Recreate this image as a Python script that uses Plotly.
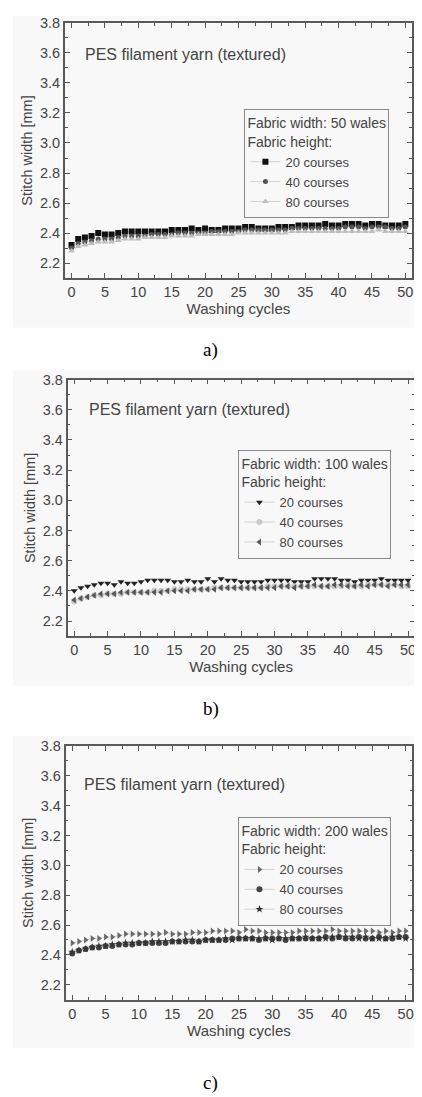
import plotly.graph_objects as go

# ---------------- data ----------------
cycles = list(range(0, 51))
x_ticks = [0, 5, 10, 15, 20, 25, 30, 35, 40, 45, 50]
y_ticks = [2.2, 2.4, 2.6, 2.8, 3.0, 3.2, 3.4, 3.6, 3.8]

# a) Fabric width 50 wales
a_20 = [2.32, 2.36, 2.37, 2.38, 2.40, 2.39, 2.39, 2.40, 2.41, 2.41,
        2.41, 2.41, 2.41, 2.41, 2.41, 2.42, 2.42, 2.42, 2.43, 2.42,
        2.43, 2.42, 2.42, 2.43, 2.43, 2.43, 2.44, 2.44, 2.43, 2.43,
        2.43, 2.44, 2.44, 2.44, 2.45, 2.45, 2.45, 2.45, 2.46, 2.45,
        2.45, 2.46, 2.46, 2.46, 2.45, 2.46, 2.46, 2.45, 2.45, 2.45,
        2.46]
a_40 = [2.30, 2.33, 2.34, 2.35, 2.36, 2.36, 2.36, 2.37, 2.38, 2.38,
        2.38, 2.38, 2.39, 2.39, 2.39, 2.39, 2.40, 2.40, 2.40, 2.40,
        2.40, 2.41, 2.41, 2.41, 2.41, 2.41, 2.42, 2.42, 2.42, 2.42,
        2.42, 2.42, 2.42, 2.43, 2.43, 2.43, 2.43, 2.43, 2.43, 2.43,
        2.43, 2.44, 2.44, 2.44, 2.43, 2.44, 2.44, 2.44, 2.43, 2.43,
        2.44]
a_80 = [2.28, 2.31, 2.32, 2.33, 2.34, 2.34, 2.34, 2.35, 2.36, 2.36,
        2.36, 2.37, 2.37, 2.37, 2.37, 2.38, 2.38, 2.38, 2.38, 2.39,
        2.39, 2.39, 2.39, 2.39, 2.39, 2.40, 2.40, 2.40, 2.40, 2.40,
        2.40, 2.40, 2.40, 2.41, 2.41, 2.41, 2.41, 2.41, 2.41, 2.41,
        2.41, 2.41, 2.41, 2.41, 2.41, 2.41, 2.42, 2.41, 2.41, 2.41,
        2.41]

# b) Fabric width 100 wales
b_20 = [2.40, 2.42, 2.43, 2.44, 2.45, 2.45, 2.44, 2.46, 2.45, 2.45,
        2.46, 2.47, 2.47, 2.47, 2.47, 2.46, 2.46, 2.47, 2.46, 2.46,
        2.48, 2.46, 2.48, 2.47, 2.47, 2.46, 2.46, 2.46, 2.46, 2.47,
        2.47, 2.47, 2.47, 2.46, 2.46, 2.46, 2.48, 2.48, 2.48, 2.48,
        2.47, 2.47, 2.46, 2.47, 2.47, 2.47, 2.48, 2.47, 2.47, 2.47,
        2.47]
b_40 = [2.33, 2.35, 2.36, 2.37, 2.37, 2.38, 2.38, 2.38, 2.39, 2.39,
        2.39, 2.39, 2.40, 2.40, 2.40, 2.41, 2.41, 2.41, 2.41, 2.41,
        2.41, 2.42, 2.42, 2.42, 2.42, 2.42, 2.42, 2.42, 2.42, 2.43,
        2.43, 2.43, 2.43, 2.43, 2.43, 2.43, 2.43, 2.43, 2.43, 2.43,
        2.43, 2.44, 2.43, 2.43, 2.44, 2.44, 2.44, 2.44, 2.44, 2.43,
        2.43]
b_80 = [2.34, 2.35, 2.36, 2.37, 2.38, 2.38, 2.38, 2.39, 2.39, 2.39,
        2.39, 2.39, 2.39, 2.39, 2.40, 2.40, 2.40, 2.40, 2.41, 2.41,
        2.41, 2.41, 2.42, 2.42, 2.42, 2.42, 2.42, 2.42, 2.42, 2.42,
        2.42, 2.43, 2.43, 2.42, 2.43, 2.43, 2.44, 2.43, 2.43, 2.44,
        2.44, 2.43, 2.43, 2.44, 2.43, 2.44, 2.44, 2.43, 2.44, 2.44,
        2.44]

# c) Fabric width 200 wales
c_20 = [2.48, 2.49, 2.50, 2.51, 2.51, 2.52, 2.52, 2.53, 2.54, 2.54,
        2.54, 2.54, 2.54, 2.54, 2.55, 2.54, 2.54, 2.54, 2.55, 2.55,
        2.55, 2.56, 2.56, 2.56, 2.56, 2.55, 2.57, 2.56, 2.56, 2.55,
        2.55, 2.55, 2.55, 2.55, 2.56, 2.56, 2.56, 2.56, 2.56, 2.57,
        2.56, 2.56, 2.56, 2.56, 2.56, 2.56, 2.55, 2.56, 2.55, 2.56,
        2.56]
c_40 = [2.41, 2.43, 2.44, 2.45, 2.45, 2.46, 2.46, 2.47, 2.47, 2.47,
        2.48, 2.48, 2.48, 2.48, 2.48, 2.49, 2.49, 2.49, 2.49, 2.49,
        2.50, 2.50, 2.50, 2.50, 2.51, 2.51, 2.51, 2.51, 2.50, 2.51,
        2.51, 2.51, 2.50, 2.51, 2.51, 2.51, 2.51, 2.51, 2.52, 2.51,
        2.52, 2.51, 2.51, 2.52, 2.51, 2.51, 2.52, 2.51, 2.51, 2.52,
        2.52]
c_80 = [2.42, 2.43, 2.44, 2.45, 2.46, 2.46, 2.47, 2.47, 2.48, 2.48,
        2.48, 2.48, 2.49, 2.49, 2.49, 2.49, 2.49, 2.50, 2.50, 2.49,
        2.50, 2.50, 2.50, 2.51, 2.50, 2.51, 2.51, 2.51, 2.51, 2.51,
        2.50, 2.51, 2.51, 2.51, 2.51, 2.52, 2.51, 2.51, 2.51, 2.52,
        2.52, 2.52, 2.52, 2.51, 2.52, 2.51, 2.51, 2.51, 2.52, 2.52,
        2.51]

series_names = ["20 courses", "40 courses", "80 courses"]
panel_titles = ["Fabric width: 50 wales", "Fabric width: 100 wales", "Fabric width: 200 wales"]
captions = ["a)", "b)", "c)"]
inner_label = "PES filament yarn (textured)"
x_title = "Washing cycles"
y_title = "Stitch width [mm]"

panel_data = [[a_20, a_40, a_80], [b_20, b_40, b_80], [c_20, c_40, c_80]]

# ---------------- styling / layout ----------------
PAGE_W, PAGE_H = 422, 1097
OFF = 8  # page body margin of the html page
W, H = PAGE_W - OFF, PAGE_H - OFF
SANS = "Liberation Sans, Arial, sans-serif"
SERIF = "Liberation Serif, Times New Roman, serif"

def fx(p):
    return (p - OFF) / W

def fy(p):
    return 1 - (p - OFF) / H

# frame pixel boxes in page pixels (left, top, right, bottom)
frames = [(65, 15, 413, 272), (67.7, 374.3, 415.7, 632.7), (65.7, 743.3, 413.3, 999)]
legend_pos = [(245, 102), (239, 445), (239, 815)]
label_pos = [(83, 47), (87, 404), (82, 782)]
caption_y = [344, 706, 1083]
bg_boxes = [(13, 8, 418, 322), (13, 365, 418, 683), (13, 733, 418, 1048)]

marker_styles = [
    [dict(symbol="square", color="#111111", size=6),
     dict(symbol="circle", color="#555555", size=5),
     dict(symbol="triangle-up", color="#bdbdbd", size=6)],
    [dict(symbol="triangle-down", color="#222222", size=6),
     dict(symbol="circle", color="#c8c8c8", size=6),
     dict(symbol="triangle-left", color="#555555", size=6)],
    [dict(symbol="triangle-right", color="#6a6a6a", size=6),
     dict(symbol="circle", color="#444444", size=6),
     dict(symbol="star", color="#333333", size=6)],
]

fig = go.Figure()
layout = dict(
    width=W, height=H,
    margin=dict(l=0, r=0, t=0, b=0),
    paper_bgcolor="white",
    plot_bgcolor="rgba(0,0,0,0)",
    showlegend=True,
    annotations=[],
    shapes=[],
)

for i in range(3):
    k = "" if i == 0 else str(i + 1)
    xa, ya = "x" + k, "y" + k
    leg = "legend" + k
    for j in range(3):
        ms = marker_styles[i][j]
        fig.add_trace(go.Scatter(
            x=cycles, y=panel_data[i][j], mode="lines+markers",
            name=series_names[j], xaxis=xa, yaxis=ya, legend=leg,
            line=dict(color="#b8b8b8", width=0.6),
            marker=dict(symbol=ms["symbol"], color=ms["color"], size=ms["size"],
                        line=dict(width=0)),
        ))
    l, t, r, b = frames[i]
    layout["xaxis" + k] = dict(
        domain=[fx(l), fx(r)], anchor=ya, range=[-1, 51],
        tickmode="array", tickvals=x_ticks,
        ticks="inside", ticklen=5, tickwidth=1, tickcolor="#555",
        showline=True, linecolor="#5a5a5a", linewidth=1.5, mirror="allticks",
        showgrid=False, zeroline=False,
        tickfont=dict(family=SANS, size=14.5, color="#444"),
        minor=dict(ticks="inside", ticklen=3, tickcolor="#555", dtick=2.5, tick0=0, showgrid=False),
        title=dict(text=x_title, font=dict(family=SANS, size=15, color="#444"), standoff=4),
    )
    layout["yaxis" + k] = dict(
        domain=[fy(b), fy(t)], anchor=xa, range=[2.1, 3.8],
        tickmode="array", tickvals=y_ticks, tickformat=".1f",
        ticks="inside", ticklen=5, tickwidth=1, tickcolor="#555",
        showline=True, linecolor="#5a5a5a", linewidth=1.5, mirror="allticks",
        showgrid=False, zeroline=False,
        tickfont=dict(family=SANS, size=14.5, color="#444"),
        minor=dict(ticks="inside", ticklen=3, tickcolor="#555", dtick=0.1, tick0=2.2, showgrid=False),
        title=dict(text=y_title, font=dict(family=SANS, size=14.5, color="#444"), standoff=4),
    )
    lx, ly = legend_pos[i]
    layout[leg] = dict(
        x=fx(lx), y=fy(ly), xanchor="left", yanchor="top",
        bgcolor="rgba(0,0,0,0)", bordercolor="#888", borderwidth=1,
        font=dict(family=SANS, size=13, color="#444"),
        title=dict(text=panel_titles[i] + "<br>Fabric height:",
                   font=dict(family=SANS, size=14, color="#444")),
        itemsizing="trace", tracegroupgap=0, itemwidth=30,
    )
    px, py = label_pos[i]
    layout["annotations"].append(dict(
        text=inner_label, xref="paper", yref="paper", x=fx(px), y=fy(py),
        xanchor="left", yanchor="middle", showarrow=False,
        font=dict(family=SANS, size=16, color="#444"),
    ))
    layout["annotations"].append(dict(
        text=captions[i], xref="paper", yref="paper", x=fx(211), y=fy(caption_y[i]),
        xanchor="center", yanchor="middle", showarrow=False,
        font=dict(family=SERIF, size=19, color="#000"),
    ))
    bx0, by0, bx1, by1 = bg_boxes[i]
    layout["shapes"].append(dict(
        type="rect", xref="paper", yref="paper",
        x0=fx(bx0), x1=fx(bx1), y0=fy(by1), y1=fy(by0),
        fillcolor="#f8f8f8", line=dict(width=0), layer="below",
    ))

fig.update_layout(**layout)
fig.write_html("out.html")
